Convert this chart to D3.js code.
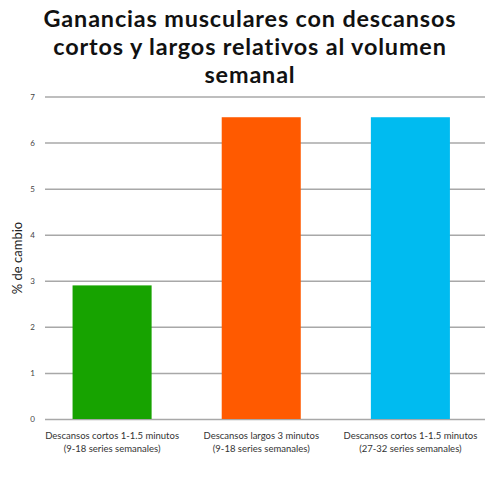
<!DOCTYPE html>
<html><head><meta charset="utf-8">
<script src="https://cdn.jsdelivr.net/npm/d3@7"></script>
<style>body{margin:0;background:#fff}svg{display:block}</style>
</head><body>
<script>
const titleLines = ["Ganancias musculares con descansos", "cortos y largos relativos al volumen", "semanal"];
const categories = [
  ["Descansos cortos 1-1.5 minutos", "(9-18 series semanales)"],
  ["Descansos largos 3 minutos", "(9-18 series semanales)"],
  ["Descansos cortos 1-1.5 minutos", "(27-32 series semanales)"]
];
const values = [2.9, 6.55, 6.55];
const colors = ["#17a300", "#ff5a00", "#00bbf0"];
const yTicks = [0, 1, 2, 3, 4, 5, 6, 7];
const yLabel = "% de cambio";

const W = 500, H = 500;
const svg = d3.select("body").append("svg").attr("width", W).attr("height", H);
const font = "Lato, 'Open Sans', sans-serif";

const x = d3.scaleBand().domain(d3.range(categories.length)).range([45, 485])
  .paddingInner(0.47).paddingOuter(0.21).align(0.44);
const y = d3.scaleLinear().domain([0, 7]).range([419, 96.5]);

// title
svg.append("g").selectAll("text").data(titleLines).join("text")
  .attr("x", W / 2).attr("y", (d, i) => 27 + i * 28.2)
  .attr("text-anchor", "middle").attr("font-family", font)
  .attr("font-weight", 700).attr("font-size", 23.4).attr("letter-spacing", 0.85).attr("fill", "#111")
  .text(d => d);

// grid + y axis
const yAxis = d3.axisLeft(y).tickValues(yTicks).tickSize(-440).tickPadding(10).tickFormat(d3.format("d"));
const gy = svg.append("g").attr("transform", "translate(45,0)").call(yAxis);
gy.select(".domain").remove();
gy.selectAll(".tick line").attr("stroke", "#a8a8a8").attr("stroke-width", 1.5);
gy.selectAll(".tick text").attr("font-family", font).attr("font-size", 8).attr("fill", "#444").attr("x", -10);

// bars
svg.append("g").selectAll("rect").data(values).join("rect")
  .attr("x", (d, i) => x(i)).attr("width", x.bandwidth())
  .attr("y", d => y(d)).attr("height", d => y(0) - y(d))
  .attr("fill", (d, i) => colors[i]);

// x labels
const xl = svg.append("g").selectAll("text").data(categories).join("text")
  .attr("text-anchor", "middle").attr("font-family", font).attr("font-size", 9.5).attr("fill", "#333")
  .attr("transform", (d, i) => `translate(${x(i) + x.bandwidth() / 2},0)`);
xl.selectAll("tspan").data(d => d).join("tspan")
  .attr("x", 0).attr("y", (d, j) => 439 + j * 13).text(d => d);

// y label
svg.append("text").attr("transform", "translate(22,258) rotate(-90)")
  .attr("text-anchor", "middle").attr("font-family", font).attr("font-size", 13).attr("fill", "#222")
  .text(yLabel);
</script>
</body></html>
